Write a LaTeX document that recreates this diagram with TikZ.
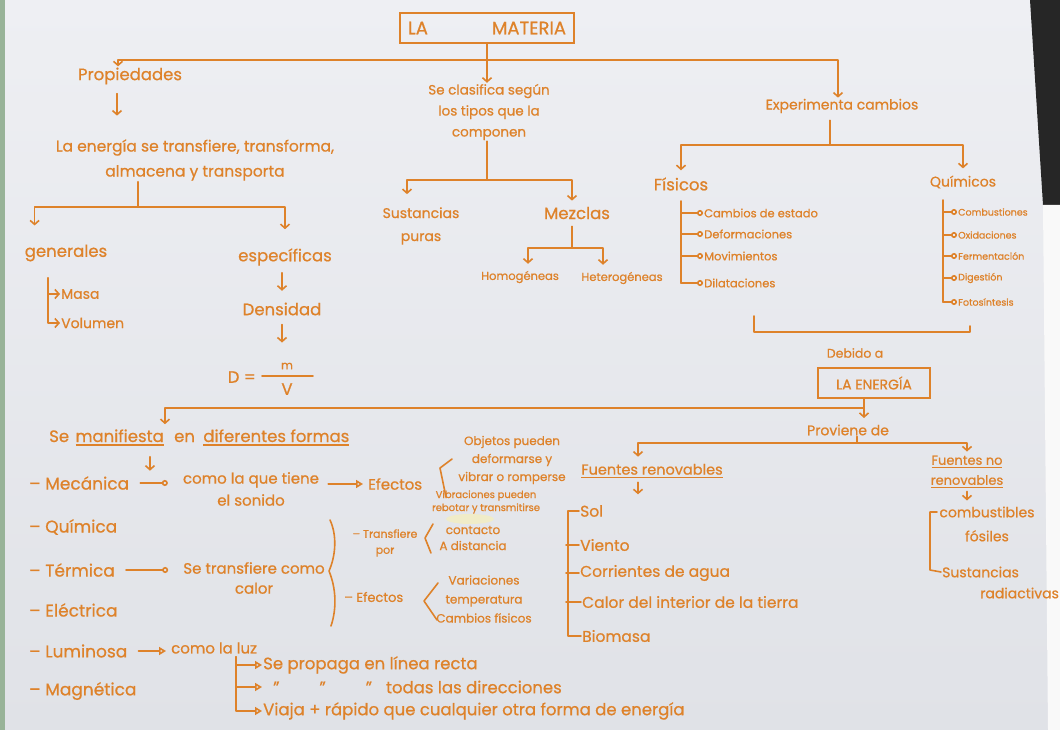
\documentclass[tikz,border=0pt]{standalone}
\usepackage{fontspec}
\setmainfont{Poppins}[FakeBold=0.7]
\usetikzlibrary{arrows.meta, positioning, calc}

\definecolor{tinta}{RGB}{222,130,42}
\definecolor{papelA}{RGB}{238,239,243}
\definecolor{papelB}{RGB}{224,226,231}
\definecolor{corrector}{RGB}{240,236,200}

% subrayado a mano
\newcommand{\subraya}[1]{\setbox0=\hbox{#1}\leavevmode\rlap{\rule[-3.5pt]{\wd0}{1.3pt}}\box0}

\tikzset{
  ink/.style={draw=tinta, line width=1.6pt, line cap=round, line join=round},
  txt/.style={text=tinta, inner sep=1pt, font=\fontsize{14}{17}\selectfont},
  txtg/.style={txt, font=\fontsize{16.5}{19}\selectfont},
  txtp/.style={txt, font=\fontsize{11.5}{14}\selectfont},
  txtxp/.style={txt, font=\fontsize{9.5}{12}\selectfont},
  flecha/.style={ink, -{Straight Barb[length=4pt,width=9pt]}},
  circulo/.style={ink, -{Circle[open,length=6pt,width=6pt]}},
  triang/.style={ink, -{Triangle[open,length=7pt,width=8pt]}},
}

\begin{document}
\begin{tikzpicture}[x=1pt, y=-1pt]
% papel
\shade[top color=papelA, bottom color=papelB] (0,0) rectangle (1060,730);
\useasboundingbox (0,0) rectangle (1060,730);
\fill[green!15!gray!70] (0,0) rectangle (5,730);
\fill[black!85] (1030,0) -- (1060,0) -- (1060,205) -- (1043,205) -- cycle;
\fill[white!95!gray] (1043,205) -- (1060,205) -- (1060,730) -- (1048,730) -- cycle;

% LA MATERIA
\node[txt, font=\fontsize{18}{21}\selectfont, draw=tinta, line width=1.6pt, minimum width=174pt, minimum height=30pt] (materia) at (487,28) {LA\hspace{64pt}MATERIA};
\node[txtg] (prop) at (130,76) {Propiedades};
\node[txt, align=center, font=\fontsize{13.5}{21}\selectfont] (clasif) at (489,112) {Se clasifica según\\los tipos que la\\componen};
\node[txt] (experim) at (842,106) {Experimenta cambios};
\coordinate (j1) at (487,60);
\draw[ink] (materia.south) -- (j1);
\draw[flecha] (j1) -- (j1 |- clasif.north);
\draw[flecha] (j1) -| ([xshift=-12pt]prop.north);
\draw[flecha] (j1) -| ([xshift=-4pt]experim.north);

% Propiedades
\node[txt, align=center, font=\fontsize{15.5}{25}\selectfont] (transf) at (195,160) {La energía se transfiere, transforma,\\almacena y transporta};
\draw[flecha] ([xshift=-13pt,yshift=-8pt]prop.south) -- ++(0,22);
\node[txtg] (generales) at (66,253) {generales};
\node[txtg] (especif) at (285,257) {específicas};
\coordinate (j2) at (138,207);
\draw[ink] (j2 |- transf.south) -- (j2);
\draw[flecha] (j2) -| ([xshift=11pt,yshift=18pt]generales.north west);
\draw[flecha] (j2) -| ([yshift=18pt]especif.north);
\node[txt, anchor=west] (masa) at (60,294) {Masa};
\node[txt, anchor=west] (volumen) at (60,323) {Volumen};
\coordinate (g1) at (48,278);
\draw[flecha] (g1) |- (masa.west);
\draw[flecha] (g1) |- (volumen.west);
\node[txtg] (densidad) at (282,309) {Densidad};
\draw[flecha] ([xshift=-3pt,yshift=-6pt]especif.south) -- ++(0,18);
\node[txtg, anchor=east] (formD) at (257,377) {D =};
\node[txtp] (formM) at (287,366) {m};
\node[txtg] (formV) at (287,389) {V};
\draw[ink] (262,376) -- (313,376);
\draw[flecha] ([yshift=-8pt]densidad.south) -- ++(0,18);

% Se clasifica
\coordinate (j3) at (487,180);
\draw[ink] (clasif.south -| j3) -- (j3);
\node[txt, align=center, font=\fontsize{14}{23}\selectfont] (sustpuras) at (421,226) {Sustancias\\puras};
\node[txtg] (mezclas) at (577,213) {Mezclas};
\draw[flecha] (j3) -| ([xshift=-14pt,yshift=12pt]sustpuras.north);
\draw[flecha] (j3) -| ([xshift=-5pt,yshift=5pt]mezclas.north);
\node[txtp] (homog) at (520,277) {Homogéneas};
\node[txtp] (heterog) at (622,278) {Heterogéneas};
\coordinate (j4) at (572,248);
\draw[ink] ([xshift=-5pt,yshift=-6pt]mezclas.south) -- (j4);
\draw[flecha] (j4) -| ([xshift=8pt,yshift=6pt]homog.north);
\draw[flecha] (j4) -| ([xshift=-19pt,yshift=6pt]heterog.north);

% Experimenta cambios
\coordinate (j5) at (830,145);
\draw[ink] ([xshift=-12pt,yshift=-6pt]experim.south) -- (j5);
\node[txtg] (fisicos) at (681,184) {Físicos};
\node[txt] (quimicos) at (963,182) {Químicos};
\draw[flecha] (j5) -| ([yshift=6pt]fisicos.north);
\draw[flecha] (j5) -| ([yshift=6pt]quimicos.north);

% Fisicos
\node[txtp, anchor=west] (fis1) at (703,213) {Cambios de estado};
\node[txtp, anchor=west] (fis2) at (703,234) {Deformaciones};
\node[txtp, anchor=west] (fis3) at (703,256) {Movimientos};
\node[txtp, anchor=west] (fis4) at (703,283) {Dilataciones};
\draw[ink] (681,201) -- (681,283);
\draw[circulo] (fis1.west -| 681,0) -- (fis1.west);
\draw[circulo] (fis2.west -| 681,0) -- (fis2.west);
\draw[circulo] (fis3.west -| 681,0) -- (fis3.west);
\draw[circulo] (fis4.west -| 681,0) -- (fis4.west);

% Quimicos
\node[txtxp, anchor=west] (qui1) at (957,212) {Combustiones};
\node[txtxp, anchor=west] (qui2) at (957,235) {Oxidaciones};
\node[txtxp, anchor=west] (qui3) at (957,256) {Fermentación};
\node[txtxp, anchor=west] (qui4) at (957,278) {Digestión};
\node[txtxp, anchor=west] (qui5) at (957,302) {Fotosíntesis};
\draw[ink] (943,200) -- (943,302);
\draw[circulo] (qui1.west -| 943,0) -- (qui1.west);
\draw[circulo] (qui2.west -| 943,0) -- (qui2.west);
\draw[circulo] (qui3.west -| 943,0) -- (qui3.west);
\draw[circulo] (qui4.west -| 943,0) -- (qui4.west);
\draw[circulo] (qui5.west -| 943,0) -- (qui5.west);
\draw[ink] (754,316) -- (754,332) -- (970,332) -- (970,326);

% LA ENERGIA
\node[txt, font=\fontsize{12.5}{14}\selectfont] (debido) at (855,353) {Debido a};
\node[txt, draw=tinta, line width=1.6pt, minimum width=112pt, minimum height=30pt] (laenergia) at (874,383) {LA ENERGÍA};
\node[txtg, anchor=base west] (se1) at (48,442) {Se};
\node[txtg, anchor=base west] (manif) at ([xshift=4pt]se1.base east) {\subraya{manifiesta}};
\node[txtg, anchor=base west] (en1) at ([xshift=8pt]manif.base east) {en};
\node[txtg, anchor=base west] (difer) at ([xshift=6pt]en1.base east) {\subraya{diferentes formas}};
\node[txt] (proviene) at (848,430) {Proviene de};
\coordinate (j6) at (864,408);
\draw[ink] (laenergia.south -| j6) -- (j6);
\draw[flecha] (j6) -| ([yshift=4pt]manif.north east);
\draw[flecha] (j6) -- ++(0,10);

% Proviene de
\coordinate (j7) at (857,443);
\draw[ink] (proviene.south -| j7) -- (j7);
\node[txt, font=\fontsize{14.5}{17}\selectfont] (renov) at (652,471) {\subraya{Fuentes renovables}};
\node[txt, align=center, font=\fontsize{13}{20}\selectfont] (norenov) at (967,472) {\subraya{Fuentes no}\\\subraya{renovables}};
\draw[flecha] (j7) -| ([xshift=-14pt,yshift=6pt]renov.north);
\draw[flecha] (j7) -| ([yshift=3pt]norenov.north);
\draw[flecha] ([xshift=-14pt,yshift=-3pt]renov.south) -- ++(0,12);
\draw[flecha] ([yshift=-2pt]norenov.south) -- ++(0,9);

% renovables
\node[txt, font=\fontsize{15.5}{18}\selectfont, anchor=west] (sol) at (579,511) {Sol};
\node[txt, font=\fontsize{15.5}{18}\selectfont, anchor=west] (viento) at (579,545) {Viento};
\node[txt, font=\fontsize{15.5}{18}\selectfont, anchor=west] (corrientes) at (579,573) {Corrientes de agua};
\node[txt, font=\fontsize{15.5}{18}\selectfont, anchor=west] (calor) at (581,602) {Calor del interior de la tierra};
\node[txt, font=\fontsize{15.5}{18}\selectfont, anchor=west] (biomasa) at (581,636) {Biomasa};
\draw[ink] (sol.west) -- (568,511) -- (568,636) -- (biomasa.west);
\draw[ink] (viento.west) -- ++(-13,0);
\draw[ink] (corrientes.west) -- ++(-13,0);
\draw[ink] (calor.west) -- ++(-15,0);

% no renovables
\node[txt, align=center, font=\fontsize{14}{24}\selectfont] (combus) at (987,524) {combustibles\\fósiles};
\node[txt, anchor=west] (sust2) at (941,572) {Sustancias};
\node[txt, anchor=west] (radiac) at (979,593) {radiactivas};
\draw[ink] (937,512) -- (930,512) -- (930,570) -- (sust2.west);

% formas de energia
\node[txt, font=\fontsize{17}{19}\selectfont, anchor=west] (mecanica) at (28,483) {– Mecánica};
\node[txt, font=\fontsize{17}{19}\selectfont, anchor=west] (quimica) at (28,527) {– Química};
\node[txt, font=\fontsize{17}{19}\selectfont, anchor=west] (termica) at (28,570) {– Térmica};
\node[txt, font=\fontsize{17}{19}\selectfont, anchor=west] (electrica) at (28,610) {– Eléctrica};
\node[txt, font=\fontsize{17}{19}\selectfont, anchor=west] (luminosa) at (28,651) {– Luminosa};
\node[txt, font=\fontsize{17}{19}\selectfont, anchor=west] (magnetica) at (28,691) {– Magnética};
\draw[flecha] ([xshift=-15pt,yshift=-10pt]manif.south east) -- ++(0,14);

% mecanica
\node[txt, align=center, font=\fontsize{15}{22}\selectfont] (comoson) at (251,489) {como la que tiene\\el sonido};
\draw[circulo, shorten <=10pt, shorten >=14pt] (mecanica.east) -- (mecanica.east -| comoson.west);
\node[txt, font=\fontsize{15}{17}\selectfont, anchor=west] (efectos1) at (367,484) {Efectos};
\draw[triang, shorten <=8pt, shorten >=4pt] (comoson.east |- efectos1.west) -- (efectos1.west);
\draw[ink] (452,459) -- (440,468) -- (446,497);
\node[txt, align=center, font=\fontsize{12}{18}\selectfont] (objetos) at (512,460) {Objetos pueden\\deformarse y\\vibrar o romperse};
\node[txt, align=center, font=\fontsize{10}{13}\selectfont] (vibra) at (486,502) {Vibraciones pueden\\rebotar y transmitirse};
\fill[corrector] (470,519) ellipse (24 and 5);

% termica
\node[txt, align=center, font=\fontsize{15}{20}\selectfont] (transcalor) at (254,578) {Se transfiere como\\calor};
\draw[circulo, shorten <=10pt, shorten >=14pt] (termica.east) -- (termica.east -| transcalor.west);
\draw[ink] (330,520) .. controls (337,535) and (336,555) .. (329,571) .. controls (336,588) and (337,608) .. (331,626);
\node[txt, align=center, font=\fontsize{11}{16}\selectfont] (transfpor) at (385,543) {– Transfiere\\por};
\draw[ink] (433,524) -- (425,538) -- (431,553);
\node[txt, align=center, font=\fontsize{12}{16}\selectfont] (contacto) at (473,538) {contacto\\A distancia};
\node[txt, font=\fontsize{13}{15}\selectfont, anchor=west] (efectos2) at (343,597) {– Efectos};
\draw[ink] (438,583) -- (424,601) -- (437,620);
\node[txt, align=center, font=\fontsize{12}{19}\selectfont] (variac) at (484,599) {Variaciones\\temperatura\\Cambios físicos};

% luminosa
\node[txt, font=\fontsize{15}{17}\selectfont, anchor=west] (comoluz) at (170,648) {como la luz};
\draw[triang, shorten <=10pt, shorten >=4pt] (luminosa.east) -- (luminosa.east -| comoluz.west);
\node[txt, font=\fontsize{16.5}{19}\selectfont, anchor=west] (luz1) at (262,665) {Se propaga en línea recta};
\node[txt, font=\fontsize{16.5}{19}\selectfont, anchor=west] (luz2) at (262,687) {\hspace{10pt}"\hspace{40pt}"\hspace{40pt}"\hspace{14pt}todas las direcciones};
\node[txt, font=\fontsize{16.5}{19}\selectfont, anchor=west] (luz3) at (262,711) {Viaja + rápido que cualquier otra forma de energía};
\coordinate (l0) at (236,657);
\draw[triang] (l0) |- (luz1.west);
\draw[triang] (l0) |- (luz2.west);
\draw[triang] (l0) |- (luz3.west);
\end{tikzpicture}
\end{document}
